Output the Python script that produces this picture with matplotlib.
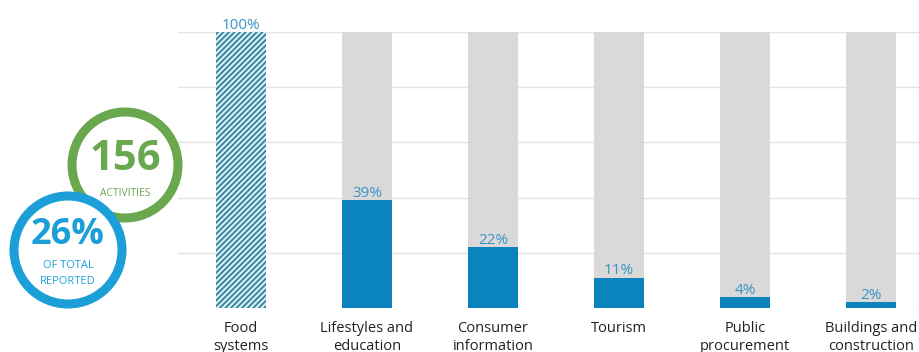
import matplotlib.pyplot as plt
from matplotlib.patches import Circle

plt.rcParams['font.family'] = ['Open Sans', 'DejaVu Sans']
plt.rcParams['hatch.linewidth'] = 1.2

categories = ['Food\nsystems', 'Lifestyles and\neducation', 'Consumer\ninformation',
              'Tourism', 'Public\nprocurement', 'Buildings and\nconstruction']
shares = [100, 39, 22, 11, 4, 2]
total_activities = '156'
share_of_total = '26%'

bar_blue = '#0b84bd'
label_blue = '#3a93c4'
grey = '#d9d9d9'
hatch_teal = '#2b7c96'

fig = plt.figure(figsize=(9.2, 3.52), dpi=100)
W, H = 920, 352

# bar axes, in pixel units of the figure
left, right, top, bottom = 178, 934, 32, 308
ax = fig.add_axes([left / W, 1 - bottom / H, (right - left) / W, (bottom - top) / H])

x = range(len(categories))
width = 0.397
for i, v in enumerate(shares):
    if i == 0:
        ax.bar(i, v, width, facecolor='#d4ecf3', edgecolor=hatch_teal,
               hatch='//////', linewidth=0, zorder=2)
    else:
        ax.bar(i, 100, width, color=grey, zorder=1)
        ax.bar(i, v, width, color=bar_blue, zorder=2)
    ax.annotate(f'{v}%', (i, v), xytext=(0, -0.5), textcoords='offset points',
                ha='center', va='bottom', fontsize=11, color=label_blue, zorder=3)

ax.set_xlim(-0.5, len(categories) - 0.5)
ax.set_ylim(0, 100)
ax.set_yticks([0, 20, 40, 60, 80, 100])
ax.yaxis.grid(True, color='#e3e3e3', linewidth=1)
ax.set_axisbelow(True)
ax.tick_params(axis='y', left=False, labelleft=False)
ax.tick_params(axis='x', length=0, pad=9)
ax.set_xticks(list(x))
ax.set_xticklabels(categories, fontsize=10.5, color='#222222', linespacing=1.3, va='top')
for s in ax.spines.values():
    s.set_visible(False)

# badge overlay
ov = fig.add_axes([0, 0, 1, 1])
ov.set_xlim(0, W)
ov.set_ylim(H, 0)
ov.axis('off')

green = '#6aa84f'
ring_blue = '#1c9fd8'
ov.add_patch(Circle((125, 165), 53, facecolor='white', edgecolor=green, linewidth=6.5))
ov.add_patch(Circle((68, 250), 54, facecolor='white', edgecolor=ring_blue, linewidth=6.5))

ov.text(125, 159, total_activities, ha='center', va='center', fontsize=30,
        fontweight='bold', color=green)
ov.text(125, 193, 'ACTIVITIES', ha='center', va='center', fontsize=7.5, color=green)
ov.text(68, 235, share_of_total, ha='center', va='center', fontsize=26,
        fontweight='bold', color=ring_blue)
ov.text(68, 266, 'OF TOTAL', ha='center', va='center', fontsize=8, color=ring_blue)
ov.text(68, 281, 'REPORTED', ha='center', va='center', fontsize=8, color=ring_blue)

fig.savefig('out.png', dpi=100)
